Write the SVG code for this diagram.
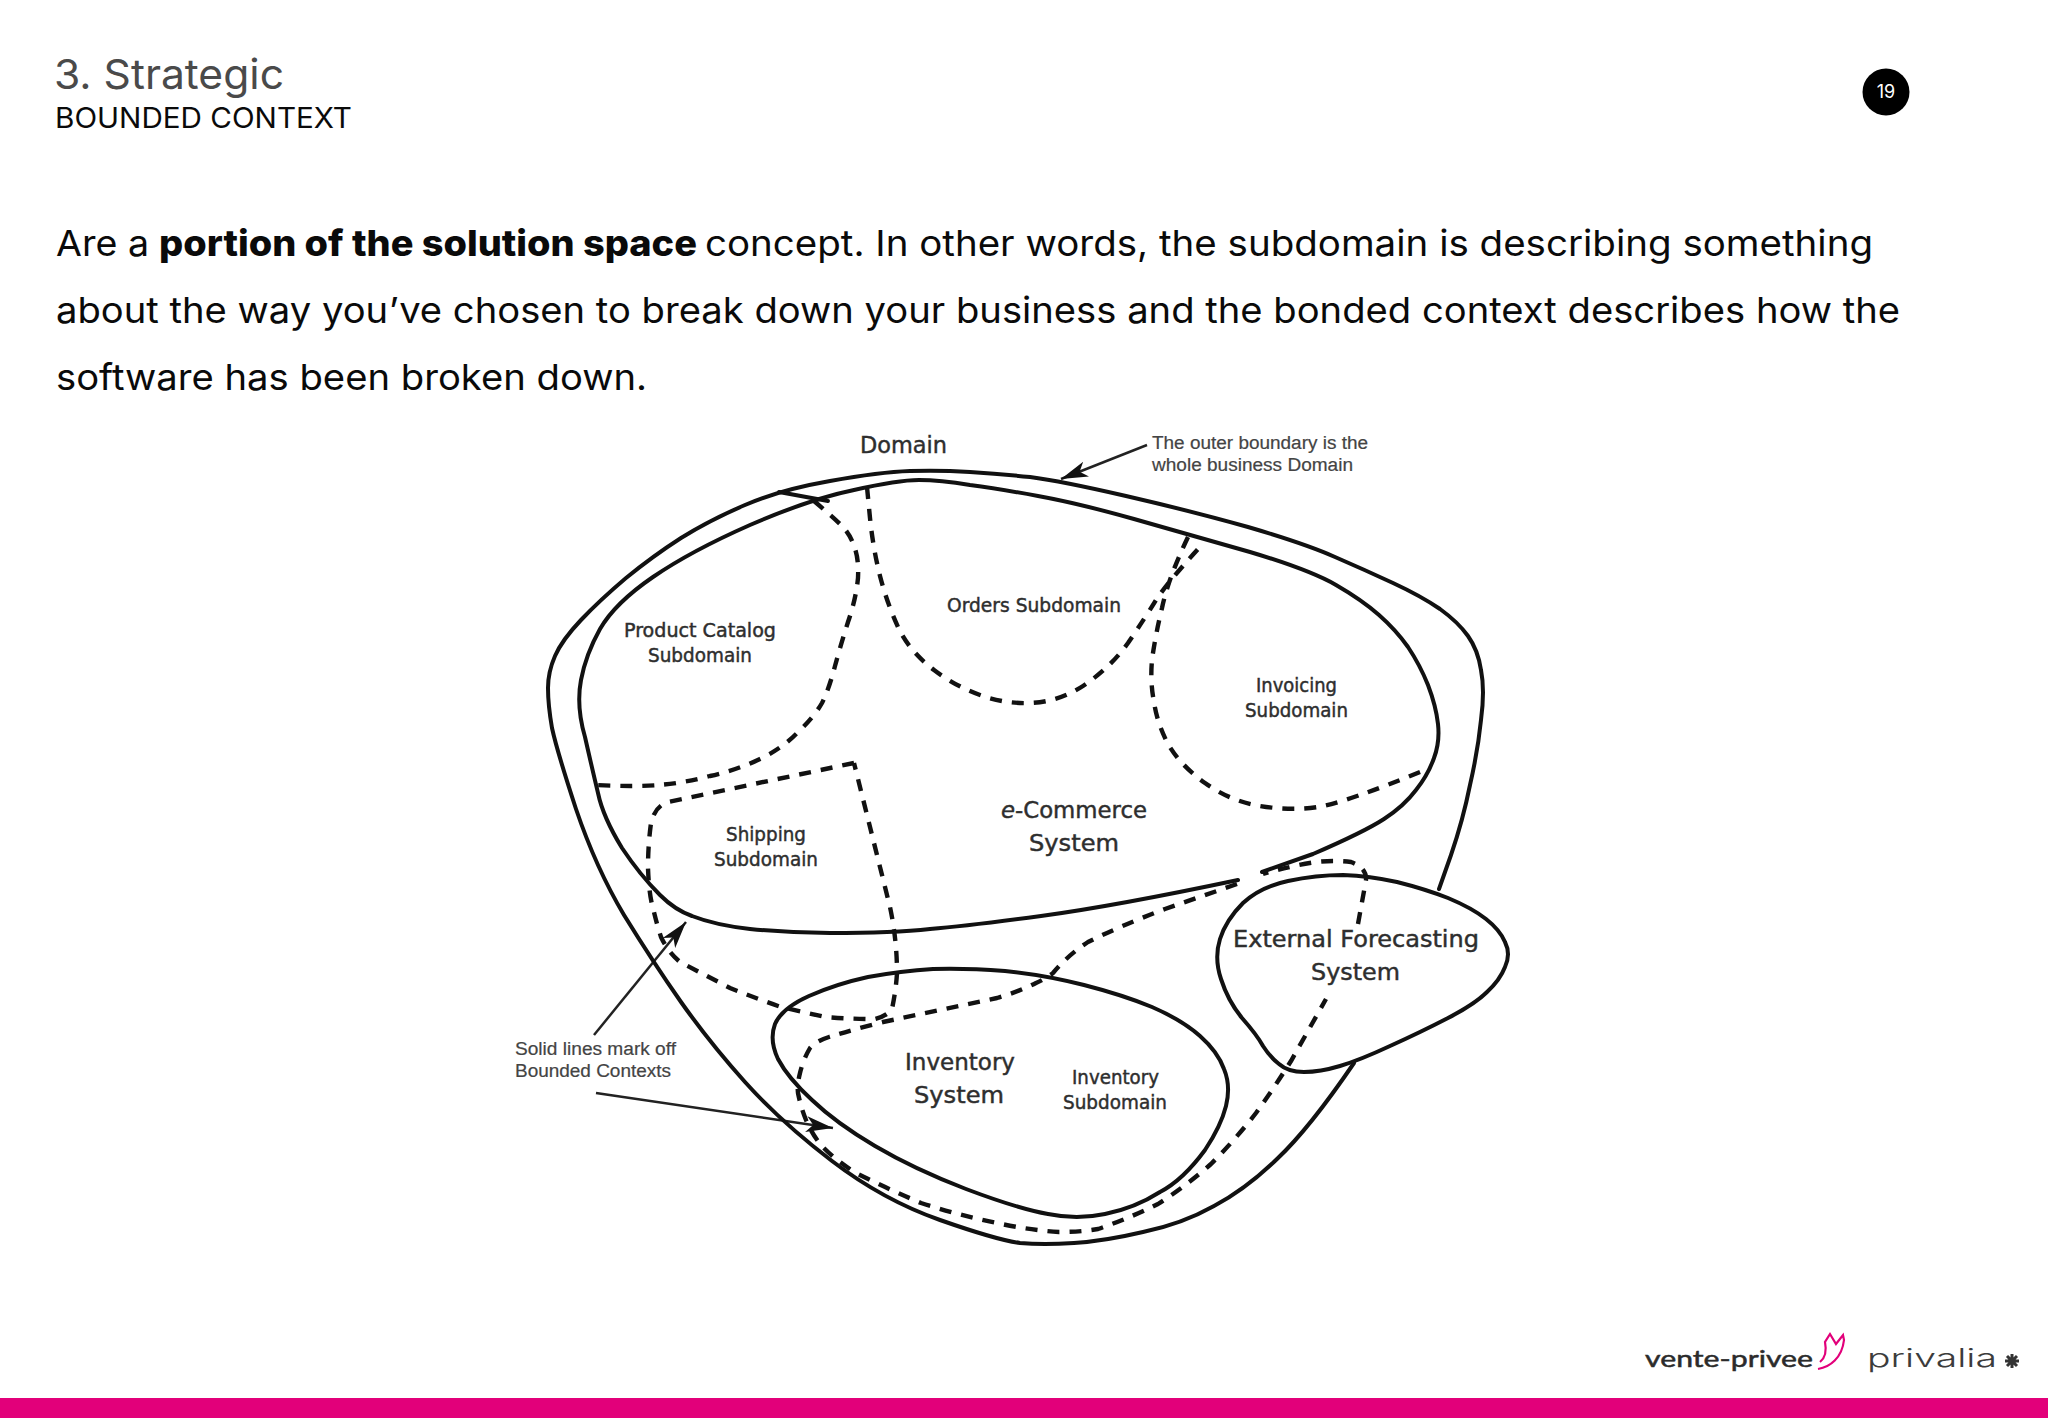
<svg xmlns="http://www.w3.org/2000/svg" width="2048" height="1418" viewBox="0 0 2048 1418">
<style>
.t{font-family:"Inter","Open Sans",sans-serif;fill:#0a0a0a}
.h{font-family:"DejaVu Sans","Lato",sans-serif;fill:#2e2e2e;font-weight:400;stroke:#2e2e2e;stroke-width:.45}
.c{font-family:"Liberation Sans",Arial,sans-serif;fill:#444;font-size:18px;stroke:#444;stroke-width:.2}
.s{fill:none;stroke:#111;stroke-width:4;stroke-linecap:round;stroke-linejoin:round}
.d{fill:none;stroke:#111;stroke-width:4.4;stroke-dasharray:12 10}
.a{fill:none;stroke:#222;stroke-width:2.5}
</style>
<defs>
<marker id="arrow" markerUnits="userSpaceOnUse" markerWidth="28" markerHeight="20" refX="27" refY="10" orient="auto">
<path d="M0,2 L27,10 L0,18 L7,10Z" fill="#111"/>
</marker>
</defs>
<rect width="2048" height="1418" fill="#fff"/>
<g id="header">
<text class="t" x="54" y="89" font-size="41" style="fill:#4a4a4a" textLength="230" lengthAdjust="spacingAndGlyphs">3. Strategic</text>
<text class="t" x="55" y="128" font-size="28" textLength="297" lengthAdjust="spacingAndGlyphs">BOUNDED CONTEXT</text>
<circle cx="1886" cy="92" r="23.5" fill="#000"/>
<text x="1886" y="98" font-size="18" text-anchor="middle" font-family="Inter,sans-serif" fill="#fff">19</text>
</g>
<g id="body-text">
<text class="t" x="56" y="256" font-size="36" textLength="93" lengthAdjust="spacingAndGlyphs">Are a</text>
<text class="t" x="159" y="256" font-size="36" font-weight="800" textLength="538" lengthAdjust="spacingAndGlyphs">portion of the solution space</text>
<text class="t" x="705" y="256" font-size="36" textLength="1168" lengthAdjust="spacingAndGlyphs">concept. In other words, the subdomain is describing something</text>
<text class="t" x="56" y="323" font-size="36" textLength="1844" lengthAdjust="spacingAndGlyphs">about the way you’ve chosen to break down your business and the bonded context describes how the</text>
<text class="t" x="56" y="390" font-size="36" textLength="591" lengthAdjust="spacingAndGlyphs">software has been broken down.</text>
</g>
<g id="connectors">
<path class="d" d="M814,501 Q833,517 842,526 Q850,534 854,546 Q859,558 858,578 Q856,599 848,622 Q841,644 835,666 Q829,689 822,703 Q814,717 798,732 Q783,748 760,759 Q737,770 710,776 Q684,783 659,785 Q634,787 596,785"/>
<path class="d" d="M867,487 L870,518 Q873,548 880,576 Q887,603 898,627 Q909,651 934,670 Q955,686 980,695 Q1005,704 1030,703 Q1058,702 1083,686 Q1110,668 1128,643 Q1145,618 1156,600 Q1168,582 1199,548"/>
<path class="d" d="M1188,537 Q1168,579 1162,608 Q1155,637 1152,660 Q1150,682 1154,702 Q1157,723 1168,744 Q1180,765 1205,783 Q1230,801 1260,806 Q1291,811 1318,807 Q1344,803 1425,770"/>
<path class="d" d="M854,763 L668,802 Q655,806 651,823 Q648,845 648,868 Q649,895 653,908 Q657,925 661,937 Q668,952 680,962 Q705,975 730,988 Q755,998 781,1007 Q803,1012 825,1017 Q850,1019 875,1019 Q887,1016 892,1009 Q896,990 897,973 Q897,940 890,907 L854,763"/>
<path class="d" d="M1237,884 L1165,909 Q1120,926 1088,942 Q1068,955 1053,973 Q1045,979 1036,983 Q1018,992 997,998 L883,1022 Q855,1029 829,1037 Q816,1041 810,1048 Q803,1060 800,1073 Q797,1085 798,1093 Q801,1108 806,1120 Q812,1134 821,1145 Q835,1160 856,1173 Q888,1189 921,1203 Q958,1215 997,1223 Q1028,1230 1059,1232 Q1080,1232 1098,1229 Q1130,1218 1158,1204 Q1186,1186 1211,1164 Q1235,1140 1256,1113 Q1274,1088 1291,1061 L1326,999"/>
<path class="d" d="M1358,924 L1366,880 Q1367,868 1351,862 Q1335,860 1316,862 Q1290,866 1263,874"/>
<path class="a" d="M1147,445 L1061,479" marker-end="url(#arrow)"/>
<path class="a" d="M594,1035 L686,922" marker-end="url(#arrow)"/>
<path class="a" d="M596,1093 L833,1128" marker-end="url(#arrow)"/>
</g>
<g id="domain">
<path class="s" d="M1439,889 L1451,855 Q1463,820 1470,785 Q1478,750 1481,720 Q1485,690 1481,670 Q1478,650 1468,636 Q1458,622 1440,609 Q1421,596 1393,583 Q1365,570 1335,557 Q1306,544 1248,527 Q1191,511 1126,496 Q1061,481 1030,477 Q1000,474 970,472 Q940,470 910,471 Q880,472 830,481 Q779,490 745,505 Q710,520 681,538 Q653,556 626,578 Q600,600 581,620 Q562,640 555,656 Q548,672 548,688 Q548,705 552,728 Q557,751 576,809 Q596,868 624,915 Q653,962 681,1002 Q710,1043 745,1082 Q781,1122 832,1161 Q883,1200 940,1220 Q997,1240 1020,1243 Q1043,1245 1074,1243 Q1105,1241 1143,1232 Q1182,1224 1214,1206 Q1246,1189 1277,1159 Q1309,1129 1354,1063"/>
<text class="h" x="860" y="453" font-size="23" textLength="87" lengthAdjust="spacingAndGlyphs">Domain</text>
<text class="c" x="1152" y="449" textLength="216" lengthAdjust="spacingAndGlyphs">The outer boundary is the</text>
<text class="c" x="1152" y="471" textLength="201" lengthAdjust="spacingAndGlyphs">whole business Domain</text>
<text class="c" x="515" y="1055" textLength="161" lengthAdjust="spacingAndGlyphs">Solid lines mark off</text>
<text class="c" x="515" y="1077" textLength="156" lengthAdjust="spacingAndGlyphs">Bounded Contexts</text>
</g>
<g id="ecommerce-system">
<path class="s" d="M1262,872 L1313,854 Q1364,832 1384,819 Q1404,806 1416,790 Q1428,775 1434,758 Q1440,742 1438,724 Q1436,706 1428,685 Q1420,665 1408,647 Q1396,630 1379,615 Q1362,600 1336,585 Q1310,570 1250,552 Q1191,535 1134,519 Q1077,503 1038,496 Q1000,489 970,485 Q940,480 919,480 Q898,480 854,490 Q810,499 750,525 Q691,551 653,577 Q615,603 600,629 Q586,654 581,680 Q576,706 585,737 Q592,768 598,793 Q603,817 622,848 Q640,875 660,895 Q675,910 692,916 Q715,925 750,929 Q790,933 830,933 Q894,933 930,929 Q967,926 1041,916 Q1115,906 1238,880"/>
<path class="s" d="M779,492 L828,501"/>
<text class="h" x="1001" y="818" font-size="23" textLength="146" lengthAdjust="spacingAndGlyphs"><tspan font-style="italic">e</tspan>-Commerce</text>
<text class="h" x="1029" y="851" font-size="23" textLength="90" lengthAdjust="spacingAndGlyphs">System</text>
</g>
<g id="product-catalog-subdomain">
<text class="h" x="624" y="637" font-size="19" textLength="152" lengthAdjust="spacingAndGlyphs">Product Catalog</text>
<text class="h" x="648" y="662" font-size="19" textLength="104" lengthAdjust="spacingAndGlyphs">Subdomain</text>
</g>
<g id="orders-subdomain">
<text class="h" x="947" y="612" font-size="19" textLength="174" lengthAdjust="spacingAndGlyphs">Orders Subdomain</text>
</g>
<g id="invoicing-subdomain">
<text class="h" x="1256" y="692" font-size="19" textLength="81" lengthAdjust="spacingAndGlyphs">Invoicing</text>
<text class="h" x="1245" y="717" font-size="19" textLength="103" lengthAdjust="spacingAndGlyphs">Subdomain</text>
</g>
<g id="shipping-subdomain">
<text class="h" x="726" y="841" font-size="19" textLength="80" lengthAdjust="spacingAndGlyphs">Shipping</text>
<text class="h" x="714" y="866" font-size="19" textLength="104" lengthAdjust="spacingAndGlyphs">Subdomain</text>
</g>
<g id="inventory-system">
<path class="s" d="M933,969 Q966,968 1005,971 Q1045,975 1084,985 Q1123,995 1152,1007 Q1182,1020 1200,1036 Q1218,1052 1224,1069 Q1231,1086 1226,1106 Q1221,1126 1205,1150 Q1183,1180 1160,1192 Q1135,1208 1105,1214 Q1077,1220 1048,1214 Q1019,1209 966,1189 Q914,1169 875,1146 Q836,1123 812,1100 Q788,1078 778,1059 Q769,1040 775,1024 Q782,1008 809,996 Q836,984 868,977 Q901,971 933,969Z"/>
<text class="h" x="905" y="1070" font-size="23" textLength="110" lengthAdjust="spacingAndGlyphs">Inventory</text>
<text class="h" x="914" y="1103" font-size="23" textLength="90" lengthAdjust="spacingAndGlyphs">System</text>
<text class="h" x="1072" y="1084" font-size="19" textLength="87" lengthAdjust="spacingAndGlyphs">Inventory</text>
<text class="h" x="1063" y="1109" font-size="19" textLength="104" lengthAdjust="spacingAndGlyphs">Subdomain</text>
</g>
<g id="external-forecasting-system">
<path class="s" d="M1343,875 Q1316,875 1288,881 Q1260,887 1243,903 Q1226,920 1220,939 Q1214,958 1221,979 Q1228,1001 1242,1018 Q1257,1035 1263,1046 Q1270,1057 1279,1064 Q1288,1072 1304,1072 Q1320,1072 1340,1066 Q1360,1060 1390,1046 Q1421,1032 1448,1018 Q1475,1004 1487,992 Q1500,980 1505,967 Q1511,954 1505,942 Q1500,930 1486,919 Q1472,908 1448,898 Q1425,889 1397,882 Q1370,876 1343,875Z"/>
<text class="h" x="1233" y="947" font-size="23" textLength="246" lengthAdjust="spacingAndGlyphs">External Forecasting</text>
<text class="h" x="1311" y="980" font-size="23" textLength="89" lengthAdjust="spacingAndGlyphs">System</text>
</g>
<g id="logos">
<text x="1645" y="1367" font-family="Lato,sans-serif" font-size="24" font-weight="400" fill="#2b2b2b" stroke="#2b2b2b" stroke-width=".5" textLength="168" lengthAdjust="spacingAndGlyphs">vente-privee</text>
<path d="M1818,1369 C1830,1367 1842,1358 1844,1340 L1843,1335 L1836,1344 L1830,1334 L1825,1342 C1827,1352 1825,1358 1820,1362" fill="none" stroke="#e2007a" stroke-width="2.2"/>
<text x="1867" y="1367" font-family="Inter,sans-serif" font-size="25" font-weight="300" fill="#3c3c3c" textLength="130" lengthAdjust="spacingAndGlyphs">privalia</text>
<path d="M2012,1354 V1368 M2005,1361 H2019 M2007,1356 L2017,1366 M2017,1356 L2007,1366" stroke="#333" stroke-width="3"/>
</g>
<rect id="footer-bar" x="0" y="1398" width="2048" height="20" fill="#e2007a"/>
</svg>
